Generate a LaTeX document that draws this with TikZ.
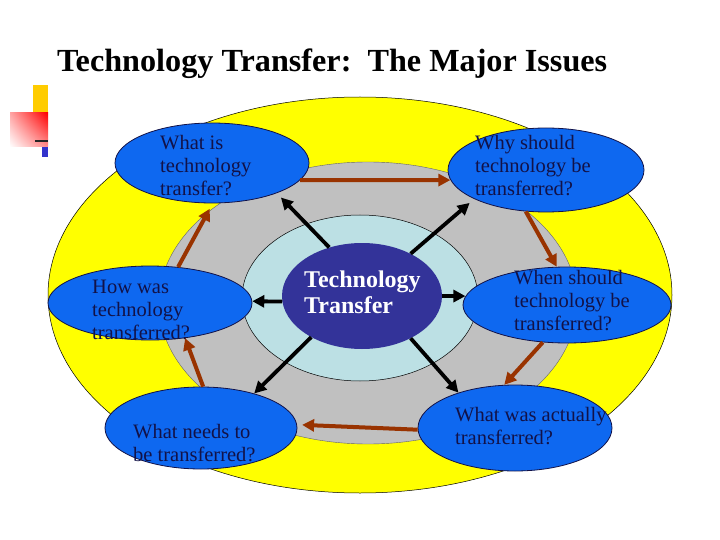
\documentclass[tikz,border=0pt]{standalone}
\usepackage{fontspec}
\setmainfont{Liberation Serif}
\usetikzlibrary{shapes.geometric,arrows.meta,shadings}
\definecolor{ringyellow}{RGB}{255,255,0}
\definecolor{ringgray}{RGB}{192,192,192}
\definecolor{ringcyan}{RGB}{188,224,228}
\definecolor{centerblue}{RGB}{51,51,153}
\definecolor{issueblue}{RGB}{14,104,240}
\definecolor{issuenavy}{RGB}{18,18,72}
\definecolor{arrowbrown}{RGB}{153,51,0}
\definecolor{logoyellow}{RGB}{255,204,0}
\definecolor{logoblue}{RGB}{51,51,204}
\tikzset{
  issue/.style={ellipse, draw=issuenavy, line width=0.8pt, fill=issueblue, inner sep=0pt},
  issuetext/.style={anchor=north west, inner sep=0pt, align=left, text=issuenavy,
    font=\fontsize{20.5}{23}\selectfont},
  cyclearrow/.style={draw=arrowbrown, line width=4pt, -{Triangle[length=12pt,width=12pt]}},
  spokearrow/.style={draw=black, line width=3.8pt, -{Triangle[length=12pt,width=12pt]}},
}
\begin{document}
\begin{tikzpicture}[x=1pt,y=-1pt]
        \useasboundingbox (0,0) rectangle (720,540);

        \begin{scope}
            \fill[logoyellow] (33,85) rectangle (48,113);
            \shade[upper right=red, upper left=red!35, lower right=red!45, lower left=white] (10,113) rectangle (48,147);
            \fill[black!85] (35,140) rectangle (48,142.5);
            \fill[logoblue] (42,147) rectangle (48,157);
        \end{scope}

        \node[anchor=base west, inner sep=0pt, font=\fontsize{32.2}{36}\selectfont\bfseries] (title) at (57,72) {Technology Transfer:\ \ The Major Issues};

        \filldraw[fill=ringyellow, draw=black, line width=0.5pt] (360,295) ellipse [x radius=312, y radius=198];
        \filldraw[fill=ringgray, draw=black!60, line width=0.4pt] (368,303) ellipse [x radius=209, y radius=141];
        \filldraw[fill=ringcyan, draw=black, line width=0.5pt] (360,298) ellipse [x radius=118, y radius=83];

        \node[ellipse, fill=centerblue, minimum width=160pt, minimum height=106pt, inner sep=0pt] (tt) at (362,296) {};
        \node[anchor=north west, inner sep=0pt, align=left, text=white, font=\fontsize{24}{26}\selectfont\bfseries] (ttq) at (304,271) {Technology\\Transfer};

        \node[issue, minimum width=194pt, minimum height=80pt] (what) at (212,163) {};
        \node[issue, minimum width=196pt, minimum height=84pt] (why) at (546,170) {};
        \node[issue, minimum width=208pt, minimum height=76pt] (when) at (567,305) {};
        \node[issue, minimum width=194pt, minimum height=86pt] (actual) at (515,428) {};
        \node[issue, minimum width=192pt, minimum height=82pt] (needs) at (201,428) {};
        \node[issue, minimum width=204pt, minimum height=74pt] (how) at (150,303) {};

        \node[issuetext] (whatq) at (160,135) {What is\\technology\\transfer?};
        \node[issuetext] (whyq) at (475,135) {Why should\\technology be\\transferred?};
        \node[issuetext] (whenq) at (514,270) {When should\\technology be\\transferred?};
        \node[issuetext] (actualq) at (455,407) {What was actually\\transferred?};
        \node[issuetext] (needsq) at (133,424) {What needs to\\be transferred?};
        \node[issuetext] (howq) at (92,280) {How was\\technology\\transferred?};

        \draw[cyclearrow] (what.-11) -- (why.186);
        \draw[cyclearrow] (why.-116) -- (when.105);
        \draw[cyclearrow] (when.-123) -- (actual.104);
        \draw[cyclearrow, shorten >=5pt] (actual.181) -- (needs.2);
        \draw[cyclearrow] (needs.87) -- (how.-45);
        \draw[cyclearrow, shorten >=6pt] (how.52) -- (what.-89);

        \draw[spokearrow, shorten >=6pt] (tt.124) -- (what.-25);
        \draw[spokearrow, shorten >=6pt] (tt.41) -- (why.202);
        \draw[spokearrow] (tt.0) -- (when.175);
        \draw[spokearrow] (tt.-41) -- (actual.148);
        \draw[spokearrow] (tt.-141) -- (needs.33);
        \draw[spokearrow] (tt.184) -- (how.1);
    \end{tikzpicture}
\end{document}
